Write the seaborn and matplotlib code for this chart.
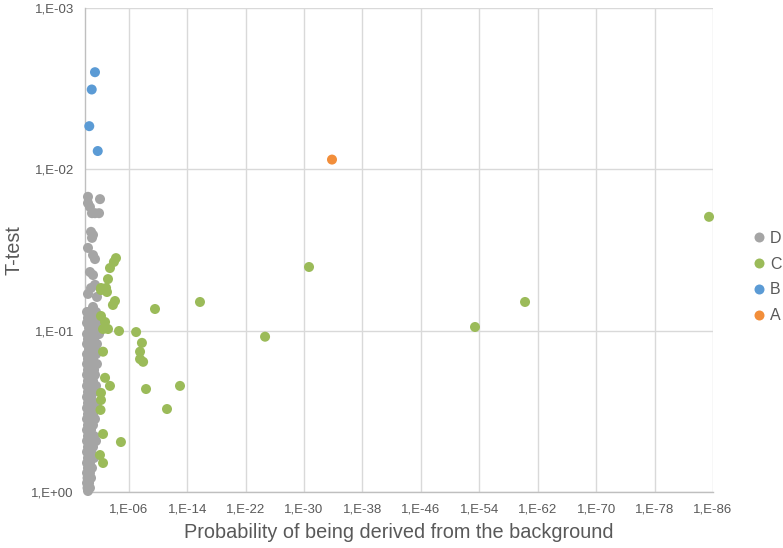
import numpy as np
import pandas as pd
import seaborn as sns
import matplotlib.pyplot as plt
from matplotlib.ticker import FixedLocator, FuncFormatter, NullLocator

sns.set_style('white')
plt.rcParams['font.family'] = ['Liberation Sans', 'DejaVu Sans']

# series A
a_p = [1.5e-34]
a_t = [0.0087]

# series B
b_p = [0.043, 0.12, 0.26, 0.018]
b_t = [0.0025, 0.0032, 0.0054, 0.0077]

# series C
c_p = [5.7e-5, 1.1e-4, 3.8e-4, 7.1e-4, 6.5e-3, 1.3e-3, 6.5e-3, 9.8e-4, 7.8e-5, 1.5e-4,
       6.5e-3, 1.8e-3, 3.4e-3, 7.1e-4, 2.2e-5, 1.0e-7, 1.6e-8, 2.9e-8, 2.9e-8, 1.1e-8,
       3.4e-3, 1.8e-3, 3.8e-4, 6.5e-3, 6.5e-3, 7.5e-3, 3.4e-3, 1.2e-5, 8.9e-3, 3.4e-3,
       2.6e-10, 1.8e-16, 4.4e-9, 9.8e-14, 5.9e-12, 2.2e-25, 2.1e-31, 3.9e-54, 5.5e-61, 3.5e-86]
c_t = [0.0355, 0.0375, 0.0409, 0.0479, 0.0544, 0.0544, 0.0560, 0.0576, 0.0655, 0.0693,
       0.0811, 0.0884, 0.0977, 0.0977, 0.1005, 0.102, 0.119, 0.135, 0.150, 0.156,
       0.135, 0.196, 0.220, 0.243, 0.269, 0.310, 0.437, 0.490, 0.590, 0.661,
       0.0734, 0.0664, 0.230, 0.220, 0.306, 0.109, 0.0403, 0.0949, 0.0664, 0.0197]

# series D
d_p = [0.39, 0.0088, 0.39, 0.21, 0.043, 0.012, 0.11, 0.15, 0.080, 0.11,
       0.39, 0.080, 0.043, 0.21, 0.080, 0.043, 0.15, 0.39, 0.023, 0.080,
       0.53, 0.15, 0.031, 0.39, 0.058, 0.53, 0.11, 0.023, 0.28, 0.043,
       0.53, 0.15, 0.012, 0.39, 0.058, 0.53, 0.11, 0.023, 0.28, 0.043,
       0.53, 0.15, 0.031, 0.39, 0.080, 0.53, 0.21, 0.023, 0.39, 0.058,
       0.53, 0.15, 0.043, 0.39, 0.080, 0.53, 0.21, 0.031, 0.39, 0.058,
       0.53, 0.15, 0.39, 0.043, 0.53, 0.15, 0.023, 0.39, 0.080, 0.53,
       0.21, 0.043, 0.39, 0.080, 0.53, 0.15, 0.39, 0.058, 0.53, 0.21,
       0.031, 0.39, 0.080, 0.53, 0.15, 0.39, 0.058, 0.53, 0.21, 0.39,
       0.11, 0.53, 0.21, 0.45, 0.15, 0.53, 0.28, 0.45, 0.21, 0.39]
d_t = [0.0148, 0.0153, 0.0162, 0.0171, 0.0187, 0.0187, 0.0187, 0.0244, 0.0255, 0.0266,
       0.0307, 0.0340, 0.0360, 0.0433, 0.0452, 0.0520, 0.0544, 0.0592, 0.0618, 0.0713,
       0.0766, 0.0766, 0.0766, 0.0834, 0.0834, 0.0896, 0.0896, 0.0896, 0.0962, 0.0962,
       0.105, 0.105, 0.105, 0.113, 0.113, 0.121, 0.121, 0.121, 0.130, 0.130,
       0.140, 0.140, 0.140, 0.150, 0.150, 0.161, 0.161, 0.161, 0.175, 0.175,
       0.188, 0.188, 0.188, 0.205, 0.205, 0.220, 0.220, 0.220, 0.240, 0.240,
       0.258, 0.258, 0.281, 0.281, 0.302, 0.302, 0.302, 0.329, 0.329, 0.353,
       0.353, 0.353, 0.385, 0.385, 0.413, 0.413, 0.450, 0.450, 0.483, 0.483,
       0.483, 0.526, 0.526, 0.565, 0.565, 0.615, 0.615, 0.661, 0.661, 0.710,
       0.710, 0.762, 0.762, 0.819, 0.819, 0.880, 0.880, 0.944, 0.944, 0.986]

series = ['D', 'C', 'B', 'A']
colors = {'D': '#A5A5A5', 'C': '#9BBB59', 'B': '#5B9BD5', 'A': '#F28E3A'}

df = pd.concat([
    pd.DataFrame({'p': d_p, 't': d_t, 'serie': 'D'}),
    pd.DataFrame({'p': c_p, 't': c_t, 'serie': 'C'}),
    pd.DataFrame({'p': b_p, 't': b_t, 'serie': 'B'}),
    pd.DataFrame({'p': a_p, 't': a_t, 'serie': 'A'}),
], ignore_index=True)

fig = plt.figure(figsize=(7.83, 5.48), dpi=100)
ax = fig.add_axes([85 / 783, 56 / 548, 628 / 783, 484 / 548])

sns.scatterplot(data=df, x='p', y='t', hue='serie', hue_order=series, palette=colors,
                s=52, linewidth=0, ax=ax, clip_on=False, zorder=3)

ax.set_xscale('log')
ax.set_yscale('log')
ax.set_xlim(1, 1e-86)
ax.set_ylim(1, 1e-3)

xt = [10.0 ** -e for e in range(6, 87, 8)]
ax.xaxis.set_major_locator(FixedLocator(xt))
ax.xaxis.set_minor_locator(NullLocator())
ax.yaxis.set_major_locator(FixedLocator([1, 1e-1, 1e-2, 1e-3]))
ax.yaxis.set_minor_locator(NullLocator())


def fmt(v, pos):
    e = int(round(np.log10(v)))
    return '1,E%s%02d' % ('+' if e >= 0 else '-', abs(e))


ax.xaxis.set_major_formatter(FuncFormatter(fmt))
ax.yaxis.set_major_formatter(FuncFormatter(fmt))

ax.grid(True, color='#D9D9D9', linewidth=1)
ax.set_axisbelow(True)
for s in ['top', 'right']:
    ax.spines[s].set_visible(False)
for s in ['left', 'bottom']:
    ax.spines[s].set_color('#BFBFBF')
    ax.spines[s].set_linewidth(1)
ax.tick_params(length=0, labelsize=9.5, labelcolor='#595959', pad=8)

ax.set_xlabel('Probability of being derived from the background', fontsize=14.3, color='#595959', labelpad=6)
ax.set_ylabel('T-test', fontsize=14.3, color='#595959', labelpad=6)

ax.get_legend().remove()
handles = [plt.Line2D([], [], marker='o', linestyle='', markersize=7.2,
                      markerfacecolor=colors[k], markeredgewidth=0) for k in series]
fig.legend(handles, series, loc='center left', bbox_to_anchor=(753 / 783, 1 - 277 / 548),
           frameon=False, fontsize=11.5, labelcolor='#595959', handlelength=0.8,
           handletextpad=0.25, labelspacing=0.68, borderpad=0, borderaxespad=0)

plt.savefig('out.png', dpi=100)
